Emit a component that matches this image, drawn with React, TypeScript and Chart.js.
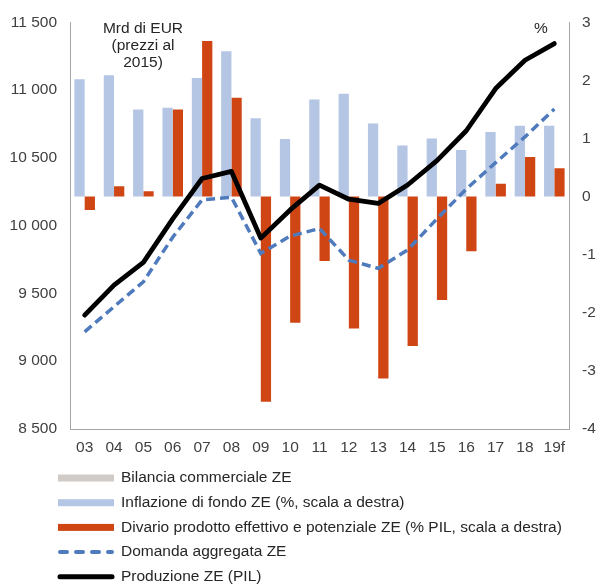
import React, { useEffect, useRef } from 'react';
import { Chart, registerables } from 'chart.js';

Chart.register(...registerables);

const categories = ['03', '04', '05', '06', '07', '08', '09', '10', '11', '12', '13', '14', '15', '16', '17', '18', '19f'];

// % (right axis)
const inflazione = [2.02, 2.09, 1.5, 1.53, 2.04, 2.5, 1.35, 0.99, 1.67, 1.77, 1.26, 0.88, 1.0, 0.8, 1.11, 1.22, 1.22];
const divario = [-0.23, 0.18, 0.09, 1.5, 2.68, 1.7, -3.53, -2.17, -1.11, -2.27, -3.13, -2.57, -1.78, -0.94, 0.22, 0.68, 0.49];

// Mrd di EUR (left axis)
const domanda = [9217, 9402, 9586, 9915, 10190, 10210, 9795, 9923, 9979, 9746, 9685, 9820, 10050, 10270, 10465, 10655, 10860];
const produzione = [9340, 9561, 9729, 10050, 10348, 10400, 9908, 10116, 10299, 10195, 10164, 10300, 10480, 10700, 11011, 11220, 11343];
const bilancia: number[] = [];

const leftMin = 8500;
const leftMax = 11500;
const leftStep = 500;
const rightMin = -4;
const rightMax = 3;
const rightStep = 1;

const unitLeft = ['Mrd di EUR', '(prezzi al', '2015)'];
const unitRight = '%';

const FONT = '"Liberation Sans", Arial, Helvetica, sans-serif';
const FONT_SIZE = 15.5;
const TICK_COLOR = '#404040';
const TEXT_COLOR = '#262626';
const AXIS_COLOR = '#a6a6a6';

const fmtThousands = (v: number) => {
  const n = Math.round(v);
  if (Math.abs(n) < 1000) return String(n);
  const th = Math.floor(n / 1000);
  const rest = String(n % 1000).padStart(3, '0');
  return th + ' ' + rest;
};

const annotationPlugin = {
  id: 'unitLabels',
  afterDraw(chart: any) {
    const { ctx, chartArea } = chart;
    ctx.save();
    ctx.fillStyle = TEXT_COLOR;
    ctx.font = `${FONT_SIZE}px ${FONT}`;
    ctx.textAlign = 'center';
    ctx.textBaseline = 'middle';
    unitLeft.forEach((t, i) => {
      ctx.fillText(t, chartArea.left + 73, chartArea.top + 6 + i * 17);
    });
    ctx.fillText(unitRight, chartArea.right - 28, chartArea.top + 6);
    ctx.restore();
  },
};

const legendPlugin = {
  id: 'stackedLegend',
  afterDraw(chart: any) {
    const { ctx, chartArea } = chart;
    const x0 = chartArea.left - 12;
    const sw = 56;
    const y0 = chartArea.bottom + 49;
    const gap = 24.7;
    chart.data.datasets.forEach((ds: any, i: number) => {
      const y = y0 + i * gap;
      ctx.save();
      if (ds.legendKind === 'box') {
        ctx.fillStyle = ds.legendColor;
        ctx.fillRect(x0, y - 3.5, sw, 7);
      } else {
        ctx.strokeStyle = ds.borderColor;
        ctx.lineWidth = ds.legendWidth;
        ctx.setLineDash(ds.legendDash || []);
        ctx.lineCap = 'round';
        ctx.beginPath();
        ctx.moveTo(x0 + 2, y);
        ctx.lineTo(x0 + sw - 2, y);
        ctx.stroke();
      }
      ctx.setLineDash([]);
      ctx.fillStyle = TEXT_COLOR;
      ctx.font = `${FONT_SIZE}px ${FONT}`;
      ctx.textAlign = 'left';
      ctx.textBaseline = 'middle';
      ctx.fillText(ds.label, x0 + 63, y);
      ctx.restore();
    });
  },
};

export default function App() {
  const canvasRef = useRef<HTMLCanvasElement | null>(null);

  useEffect(() => {
    const canvas = canvasRef.current;
    if (!canvas) return;
    const chart = new Chart(canvas, {
      type: 'bar',
      data: {
        labels: categories,
        datasets: [
          {
            type: 'line',
            label: 'Bilancia commerciale ZE',
            data: bilancia,
            yAxisID: 'y',
            borderColor: '#d0cbc7',
            backgroundColor: '#d0cbc7',
            pointRadius: 0,
            order: 5,
            legendKind: 'box',
            legendColor: '#d0cbc7',
          } as any,
          {
            type: 'bar',
            label: 'Inflazione di fondo ZE (%, scala a destra)',
            data: inflazione,
            yAxisID: 'y1',
            backgroundColor: '#b4c6e4',
            borderWidth: 0,
            categoryPercentage: 0.7,
            barPercentage: 1.0,
            order: 3,
            legendKind: 'box',
            legendColor: '#b4c6e4',
          } as any,
          {
            type: 'bar',
            label: 'Divario prodotto effettivo e potenziale ZE (% PIL, scala a destra)',
            data: divario,
            yAxisID: 'y1',
            backgroundColor: '#cf4614',
            borderWidth: 0,
            categoryPercentage: 0.7,
            barPercentage: 1.0,
            order: 4,
            legendKind: 'box',
            legendColor: '#cf4614',
          } as any,
          {
            type: 'line',
            label: 'Domanda aggregata ZE',
            data: domanda,
            yAxisID: 'y',
            borderColor: '#4f7bbd',
            borderWidth: 3.5,
            borderDash: [9, 5],
            pointRadius: 0,
            tension: 0,
            fill: false,
            order: 1,
            legendKind: 'line',
            legendWidth: 4,
            legendDash: [7, 9],
          } as any,
          {
            type: 'line',
            label: 'Produzione ZE (PIL)',
            data: produzione,
            yAxisID: 'y',
            borderColor: '#000000',
            borderWidth: 4.8,
            borderJoinStyle: 'round',
            borderCapStyle: 'round',
            pointRadius: 0,
            tension: 0,
            fill: false,
            order: 0,
            legendKind: 'line',
            legendWidth: 5,
          } as any,
        ],
      },
      options: {
        responsive: false,
        maintainAspectRatio: false,
        animation: false,
        layout: { padding: { top: 22, bottom: 126, left: 0, right: 0 } },
        plugins: {
          legend: { display: false },
          tooltip: { enabled: false },
          title: { display: false },
        },
        scales: {
          x: {
            type: 'category',
            offset: true,
            grid: { display: false, drawTicks: false },
            border: { display: true, color: AXIS_COLOR, width: 1 },
            ticks: {
              color: TICK_COLOR,
              font: { family: FONT, size: FONT_SIZE },
              padding: 9,
              maxRotation: 0,
              autoSkip: false,
            },
            afterFit: (scale: any) => {
              scale.height = 30;
            },
          },
          y: {
            type: 'linear',
            position: 'left',
            min: leftMin,
            max: leftMax,
            grid: { display: false, drawTicks: false },
            border: { display: true, color: AXIS_COLOR, width: 1 },
            ticks: {
              stepSize: leftStep,
              color: TICK_COLOR,
              font: { family: FONT, size: FONT_SIZE },
              padding: 13,
              callback: (v: any) => fmtThousands(Number(v)),
            },
            afterFit: (scale: any) => {
              scale.width = 70;
            },
          },
          y1: {
            type: 'linear',
            position: 'right',
            min: rightMin,
            max: rightMax,
            grid: { display: false, drawTicks: false },
            border: { display: true, color: AXIS_COLOR, width: 1 },
            ticks: {
              stepSize: rightStep,
              color: TICK_COLOR,
              font: { family: FONT, size: FONT_SIZE },
              padding: 13,
            },
            afterFit: (scale: any) => {
              scale.width = 29;
            },
          },
        },
      } as any,
      plugins: [annotationPlugin, legendPlugin],
    });
    return () => chart.destroy();
  }, []);

  return (
    <div style={{ position: 'absolute', left: 0, top: 0, width: 598, height: 585, background: '#ffffff' }}>
      <canvas ref={canvasRef} width={598} height={585} style={{ width: 598, height: 585, display: 'block' }} />
    </div>
  );
}
